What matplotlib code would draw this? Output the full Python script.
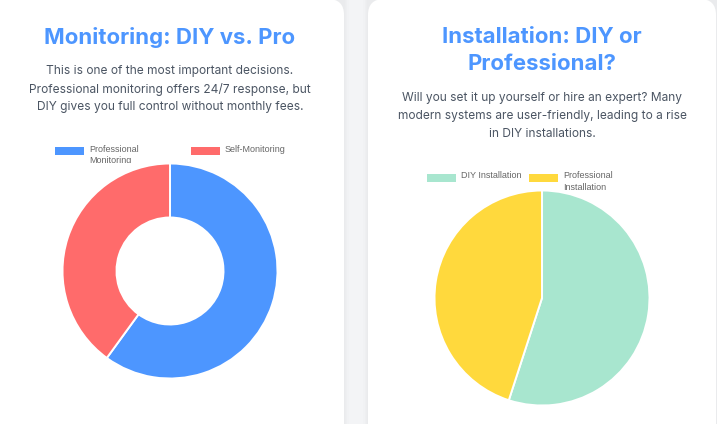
import matplotlib
matplotlib.use("Agg")
import matplotlib.pyplot as plt
from matplotlib.patches import FancyBboxPatch, Rectangle
from matplotlib.transforms import Bbox

W, H = 717, 424
PX = 0.72  # px to pt at dpi 100

monitoring_labels = ["Professional\nMonitoring", "Self-Monitoring"]
monitoring_values = [60, 40]
monitoring_colors = ["#4D96FF", "#FF6B6B"]

install_labels = ["DIY Installation", "Professional\nInstallation"]
install_values = [55, 45]
install_colors = ["#A8E6CF", "#FFD93D"]

plt.rcParams["font.family"] = ["Inter", "DejaVu Sans"]

fig = plt.figure(figsize=(W / 100, H / 100), dpi=100, facecolor="#F3F4F6")

# background layer in pixel coordinates, y pointing down
bg = fig.add_axes([0, 0, 1, 1])
bg.set_xlim(0, W)
bg.set_ylim(H, 0)
bg.axis("off")


def card(x0, x1):
    for grow, alpha in [(5, 0.006), (3, 0.010), (1.5, 0.014)]:
        bg.add_patch(FancyBboxPatch((x0 - grow, -20), x1 - x0 + 2 * grow, H + 60,
                                    boxstyle="round,pad=0,rounding_size=16",
                                    fc="black", ec="none", alpha=alpha))
    bg.add_patch(FancyBboxPatch((x0, -1), x1 - x0, H + 60,
                                boxstyle="round,pad=0,rounding_size=16",
                                fc="white", ec="none"))


card(-40, 344)
card(368, 716)


def chart(cx, cy, r, values, colors, hole):
    ax = fig.add_axes([(cx - r - 2) / W, 1 - (cy + r + 2) / H, (2 * r + 4) / W, (2 * r + 4) / H])
    ax.pie(values, colors=colors, startangle=90, counterclock=False, radius=r / (r + 2),
           wedgeprops=dict(width=(r - hole) / (r + 2) if hole else None,
                           edgecolor="white", linewidth=1.4))
    ax.set_xlim(-1, 1)
    ax.set_ylim(-1, 1)
    ax.set_aspect("equal")
    ax.axis("off")


def legend_item(x, y, label, color, clip_y):
    bg.add_patch(Rectangle((x, y), 29, 7.5, fc=color, ec="none"))
    t = bg.text(x + 34, y - 2.5, label, family="Liberation Sans", fontsize=9 * PX,
                color="#666666", va="top", ha="left", linespacing=1.3)
    # the second line of the label gets cut off by the chart area
    t.set_clip_on(True)
    t.set_clip_box(Bbox([[0, H - clip_y], [W, H]]))


def paragraph(cx, y, lines):
    for i, line in enumerate(lines):
        bg.text(cx, y + i * 18, line, fontsize=11.95 * PX, color="#4B5563",
                ha="center", va="center")


TITLE_SIZE = 22.2 * PX

# left card
bg.text(170, 37, "Monitoring: DIY vs. Pro", fontsize=TITLE_SIZE, fontweight="bold",
        color=monitoring_colors[0], ha="center", va="center")
paragraph(170, 71, ["This is one of the most important decisions.",
                    "Professional monitoring offers 24/7 response, but",
                    "DIY gives you full control without monthly fees."])
legend_item(55, 147, monitoring_labels[0], monitoring_colors[0], 163)
legend_item(191, 147, monitoring_labels[1], monitoring_colors[1], 163)
chart(170, 271, 107.5, monitoring_values, monitoring_colors, 53.5)

# right card
bg.text(542, 37, "Installation: DIY or", fontsize=TITLE_SIZE, fontweight="bold",
        color=monitoring_colors[0], ha="center", va="center")
bg.text(542, 64, "Professional?", fontsize=TITLE_SIZE, fontweight="bold",
        color=monitoring_colors[0], ha="center", va="center")
paragraph(542, 98, ["Will you set it up yourself or hire an expert? Many",
                    "modern systems are user-friendly, leading to a rise",
                    "in DIY installations."])
legend_item(427, 174, install_labels[0], install_colors[0], 190)
legend_item(529, 174, install_labels[1], install_colors[1], 190)
chart(542, 298, 107.5, install_values, install_colors, 0)

fig.savefig("out.png", dpi=100, facecolor=fig.get_facecolor())
